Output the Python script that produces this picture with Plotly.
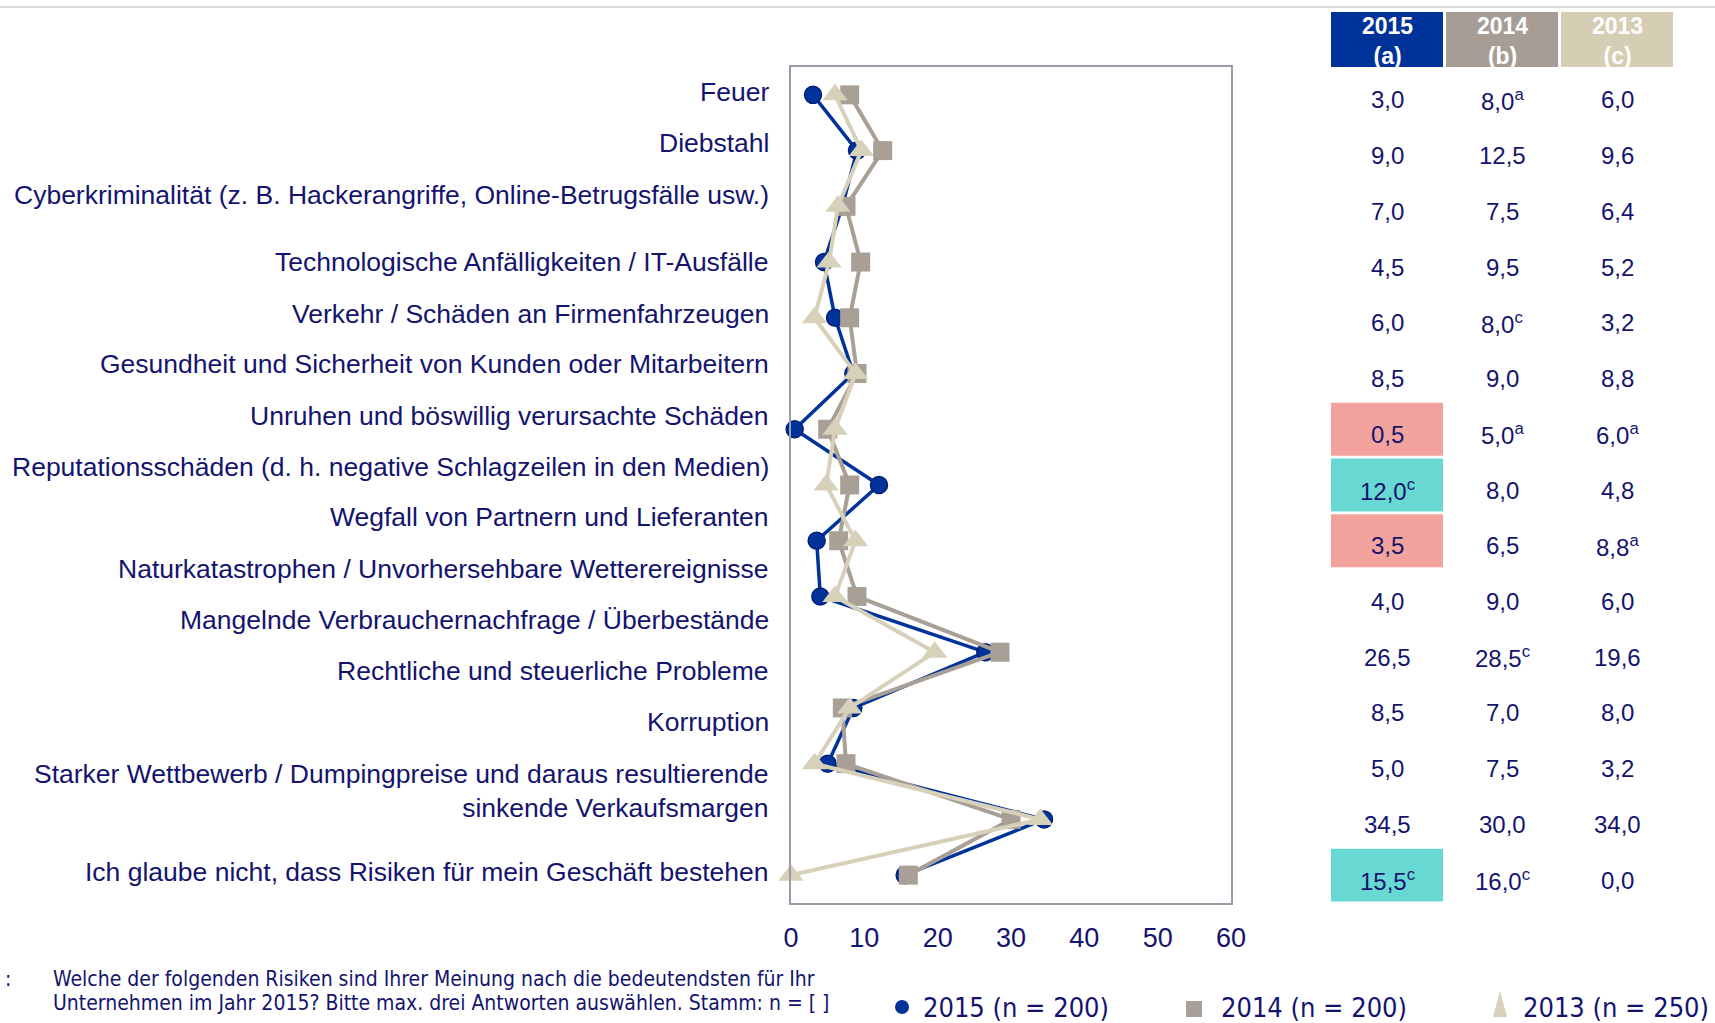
import plotly.graph_objects as go

# ---------------- data ----------------
categories = [
    "Feuer",
    "Diebstahl",
    "Cyberkriminalität (z. B. Hackerangriffe, Online-Betrugsfälle usw.)",
    "Technologische Anfälligkeiten / IT-Ausfälle",
    "Verkehr / Schäden an Firmenfahrzeugen",
    "Gesundheit und Sicherheit von Kunden oder Mitarbeitern",
    "Unruhen und böswillig verursachte Schäden",
    "Reputationsschäden (d. h. negative Schlagzeilen in den Medien)",
    "Wegfall von Partnern und Lieferanten",
    "Naturkatastrophen / Unvorhersehbare Wetterereignisse",
    "Mangelnde Verbrauchernachfrage / Überbestände",
    "Rechtliche und steuerliche Probleme",
    "Korruption",
    "Starker Wettbewerb / Dumpingpreise und daraus resultierende<br>sinkende Verkaufsmargen",
    "Ich glaube nicht, dass Risiken für mein Geschäft bestehen",
]
v2015 = [3.0, 9.0, 7.0, 4.5, 6.0, 8.5, 0.5, 12.0, 3.5, 4.0, 26.5, 8.5, 5.0, 34.5, 15.5]
v2014 = [8.0, 12.5, 7.5, 9.5, 8.0, 9.0, 5.0, 8.0, 6.5, 9.0, 28.5, 7.0, 7.5, 30.0, 16.0]
v2013 = [6.0, 9.6, 6.4, 5.2, 3.2, 8.8, 6.0, 4.8, 8.8, 6.0, 19.6, 8.0, 3.2, 34.0, 0.0]
sup2015 = ["", "", "", "", "", "", "", "c", "", "", "", "", "", "", "c"]
sup2014 = ["a", "", "", "", "c", "", "a", "", "", "", "c", "", "", "", "c"]
sup2013 = ["", "", "", "", "", "", "a", "", "a", "", "", "", "", "", ""]
mark2015 = ["", "", "", "", "", "", "low", "high", "low", "", "", "", "", "", "high"]
series_names = ["2015 (n = 200)", "2014 (n = 200)", "2013 (n = 250)"]
header_labels = ["2015<br>(a)", "2014<br>(b)", "2013<br>(c)"]
x_ticks = [0, 10, 20, 30, 40, 50, 60]
footnote = ["Welche der folgenden Risiken sind Ihrer Meinung nach die bedeutendsten für Ihr",
            "Unternehmen im Jahr 2015? Bitte max. drei Antworten auswählen. Stamm: n = [ ]"]

# ---------------- style / layout ----------------
W, H = 1715, 1023
L, R, T, B = 791, 1231, 67, 903
NAVY = "#14146e"
BLUE = "#003399"
GREY = "#a8a097"
BEIGE = "#d8d1ba"
HDR = [BLUE, "#a69e96", "#d6cdb5"]
CELL = {"low": "#f2a39d", "high": "#68d9d2"}
FONT = "Liberation Sans, Arial, sans-serif"
NARROW = "DejaVu Sans Condensed, Liberation Sans Narrow, sans-serif"

label_y = [92, 143, 195, 262, 314, 364, 416, 467, 517, 569, 620, 671, 722, 791, 872]
col_x = [1387, 1502, 1617]
col_w = 112


def px(x):
    return (x - L) / (R - L)


def py(y):
    return 1 - (y - T) / (B - T)


def fmt(v):
    return f"{v:.1f}".replace(".", ",")


fig = go.Figure()
fig.add_trace(go.Scatter(x=v2015, y=categories, mode="lines+markers", name=series_names[0],
                         line=dict(color=BLUE, width=3.5), cliponaxis=False,
                         marker=dict(symbol="circle", size=17, color=BLUE,
                                     line=dict(color="#001f7a", width=1.5)),
                         showlegend=False))
fig.add_trace(go.Scatter(x=v2014, y=categories, mode="lines+markers", name=series_names[1],
                         line=dict(color=GREY, width=4), cliponaxis=False,
                         marker=dict(symbol="square", size=19, color=GREY),
                         showlegend=False))
fig.add_trace(go.Scatter(x=v2013, y=categories, mode="lines+markers", name=series_names[2],
                         line=dict(color=BEIGE, width=4), cliponaxis=False,
                         marker=dict(symbol="triangle-up", size=22, color=BEIGE),
                         showlegend=False))

shapes = []
ann = []

# top rule
shapes.append(dict(type="line", xref="paper", yref="paper", x0=px(0), x1=px(W),
                   y0=py(7), y1=py(7), line=dict(color="#dedad5", width=2)))

# row labels
for lab, yy in zip(categories, label_y):
    ann.append(dict(text=lab, xref="paper", yref="paper", x=px(771), y=py(yy),
                    xanchor="right", yanchor="middle", align="right", showarrow=False,
                    font=dict(family=FONT, size=26.5, color=NAVY)))

# table header
for k in range(3):
    shapes.append(dict(type="rect", xref="paper", yref="paper",
                       x0=px(col_x[k] - col_w / 2), x1=px(col_x[k] + col_w / 2),
                       y0=py(67), y1=py(12), fillcolor=HDR[k], line=dict(width=0), layer="below"))
    ann.append(dict(text=f"<b>{header_labels[k]}</b>", xref="paper", yref="paper",
                    x=px(col_x[k]), y=py(41), xanchor="center", yanchor="middle",
                    showarrow=False, font=dict(family=FONT, size=23, color="white")))

# table cells
for k, (vals, sups) in enumerate([(v2015, sup2015), (v2014, sup2014), (v2013, sup2013)]):
    for i, (v, s) in enumerate(zip(vals, sups)):
        if k == 0 and mark2015[i]:
            shapes.append(dict(type="rect", xref="paper", yref="y",
                               x0=px(col_x[k] - col_w / 2), x1=px(col_x[k] + col_w / 2),
                               y0=i - 0.475, y1=i + 0.475, fillcolor=CELL[mark2015[i]],
                               line=dict(width=0), layer="below"))
        txt = fmt(v) + (f"<sup>{s}</sup>" if s else "")
        ann.append(dict(text=txt, xref="paper", yref="y", x=px(col_x[k]), y=i, yshift=-5,
                        xanchor="center", yanchor="middle", showarrow=False,
                        font=dict(family=FONT, size=24, color=NAVY)))

# footnote
ann.append(dict(text=":", xref="paper", yref="paper", x=px(3), y=py(979), xanchor="left",
                yanchor="middle", showarrow=False, font=dict(family=NARROW, size=21, color=NAVY)))
for line_txt, yy in zip(footnote, [979, 1003]):
    ann.append(dict(text=line_txt, xref="paper", yref="paper", x=px(51), y=py(yy),
                    xanchor="left", yanchor="middle", showarrow=False,
                    font=dict(family=NARROW, size=21, color=NAVY)))

# legend (drawn)
shapes.append(dict(type="circle", xref="paper", yref="paper", x0=px(895), x1=px(909),
                   y0=py(1014), y1=py(1000), fillcolor=BLUE, line=dict(width=0)))
shapes.append(dict(type="rect", xref="paper", yref="paper", x0=px(1186), x1=px(1202),
                   y0=py(1017), y1=py(1001), fillcolor=GREY, line=dict(width=0)))
x_a, x_b, x_c = px(1493), px(1507), px(1500)
y_base, y_top = py(1017), py(991)
shapes.append(dict(type="path", xref="paper", yref="paper",
                   path=f"M {x_a} {y_base} L {x_b} {y_base} L {x_c} {y_top} Z",
                   fillcolor=BEIGE, line=dict(width=0)))
for name, xx in zip(series_names, [921, 1219, 1521]):
    ann.append(dict(text=name, xref="paper", yref="paper", x=px(xx), y=py(1007),
                    xanchor="left", yanchor="middle", showarrow=False,
                    font=dict(family=NARROW, size=27, color=NAVY)))

fig.update_layout(
    width=W, height=H, autosize=False,
    margin=dict(l=L, r=W - R, t=T, b=H - B, pad=0),
    paper_bgcolor="white", plot_bgcolor="white",
    font=dict(family=FONT, color=NAVY),
    showlegend=False,
    shapes=shapes, annotations=ann,
    xaxis=dict(range=[0, 60], tickvals=x_ticks, ticktext=[str(t) for t in x_ticks],
               showgrid=False, zeroline=False, ticks="", ticklabelstandoff=10,
               tickfont=dict(family=FONT, size=27, color=NAVY),
               showline=True, mirror=True, linecolor="#9c9aa8", linewidth=2),
    yaxis=dict(type="category", categoryorder="array", categoryarray=categories,
               range=[len(categories) - 0.5, -0.5], showticklabels=False,
               showgrid=False, zeroline=False, ticks="",
               showline=True, mirror=True, linecolor="#9c9aa8", linewidth=2),
)

fig.write_html("out.html", config={"displayModeBar": False},
               post_script="document.body.style.margin='0';")
